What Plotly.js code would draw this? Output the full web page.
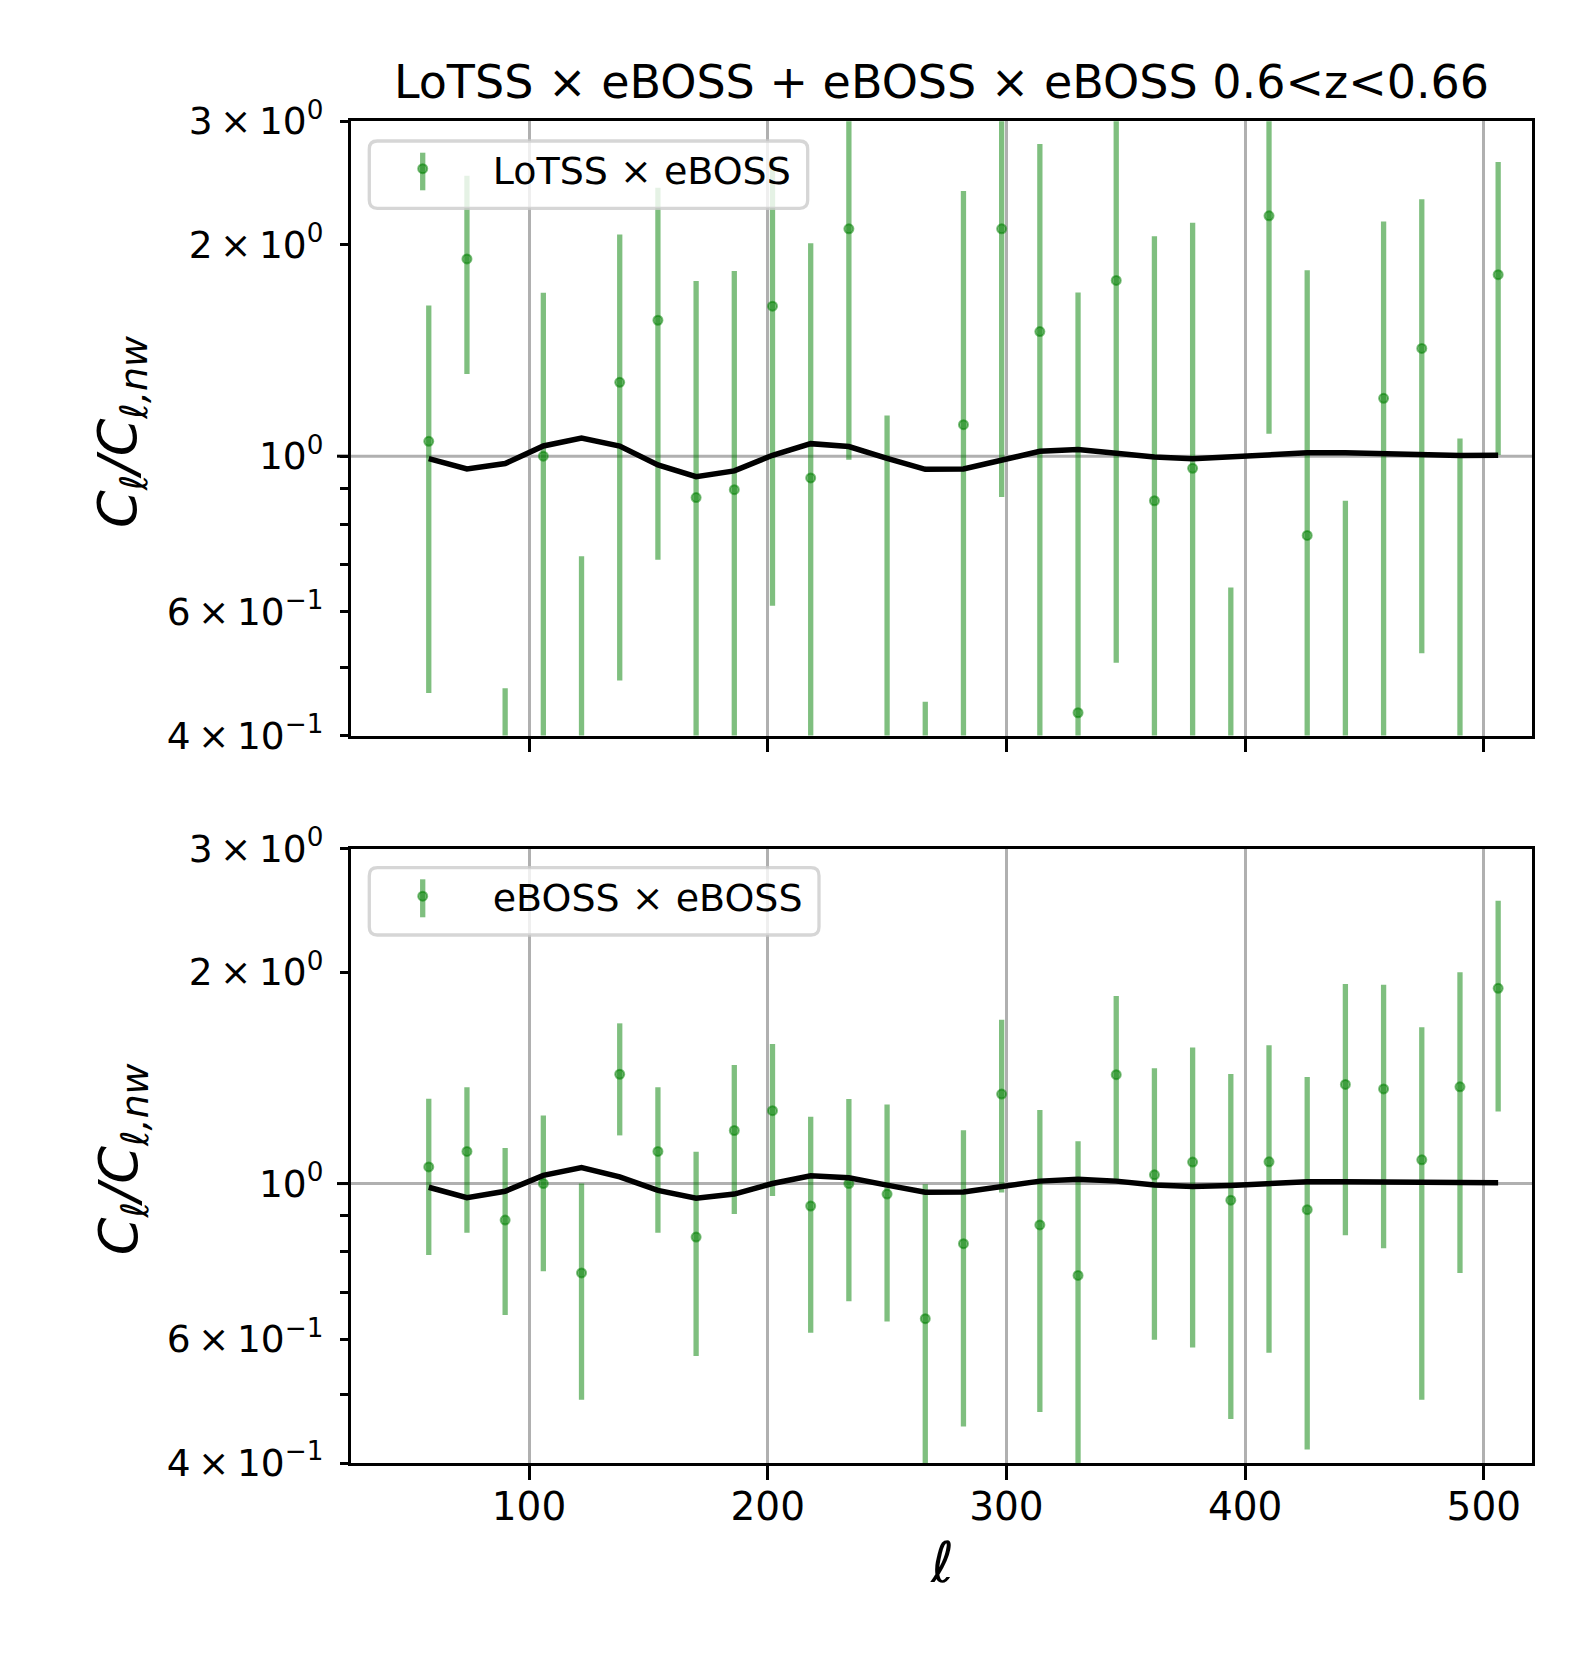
<!DOCTYPE html>
<html>
<head>
<meta charset="utf-8">
<title>BAO ratio LoTSS x eBOSS</title>
<script src="https://cdn.plot.ly/plotly-3.0.1.min.js"></script>
<style>body{margin:0;background:#fff;}</style>
</head>
<body>
<div id="plot" style="width:1579px;height:1675px;"></div>
<script>
// multipole bin centres
var ell = [58,74,90,106,122,138,154,170,186,202,218,234,250,266,282,298,314,330,346,362,378,394,410,426,442,458,474,490,506];

// LoTSS x eBOSS : C_l / C_l,nw  (a few points sit below the plotted range, only their bars show)
var crossVal = [1.05,1.91,0.02,1.00,0.02,1.274,1.562,0.873,0.896,1.636,0.931,2.108,0.02,0.02,1.109,2.108,1.505,0.431,1.780,0.864,0.961,0.02,2.20,0.771,0.02,1.209,1.424,0.21,1.814];
var crossErr = [0.59,0.60,0.447,0.71,0.70,0.795,0.85,0.904,0.94,1.024,1.08,1.12,1.123,0.427,1.277,1.233,1.28,1.28,1.272,1.194,1.19,0.63,1.124,1.07,0.844,0.95,0.90,0.85,0.81];
var crossTheory = [0.992,0.959,0.976,1.034,1.061,1.034,0.972,0.935,0.953,1.003,1.042,1.032,0.993,0.958,0.959,0.987,1.016,1.022,1.009,0.997,0.992,0.997,1.005,1.011,1.011,1.008,1.003,1.002,1.003];

// eBOSS x eBOSS
var autoVal = [1.056,1.111,0.887,1.0,0.746,1.431,1.111,0.839,1.190,1.270,0.929,1.0,0.966,0.642,0.821,1.341,0.873,0.740,1.429,1.029,1.073,0.947,1.074,0.918,1.384,1.364,1.081,1.373,1.897];
var autoErr = [0.265,0.26,0.237,0.25,0.254,0.26,0.26,0.271,0.285,0.31,0.316,0.32,0.33,0.356,0.37,0.37,0.40,0.409,0.42,0.43,0.489,0.485,0.50,0.50,0.54,0.555,0.589,0.627,0.63];
var autoTheory = [0.988,0.955,0.975,1.027,1.054,1.022,0.978,0.953,0.966,1.0,1.026,1.019,0.995,0.972,0.973,0.99,1.008,1.014,1.008,0.995,0.99,0.994,1.0,1.006,1.006,1.005,1.002,1.002,1.003];

var xTicks = [100,200,300,400,500];
var yTicks = [0.4,0.6,1,2,3];
var yTickText = ['4\u2009×\u200910<sup>−1</sup>','6\u2009×\u200910<sup>−1</sup>','10<sup>0</sup>','2\u2009×\u200910<sup>0</sup>','3\u2009×\u200910<sup>0</sup>'];
var yMinorTicks = [0.5,0.7,0.8,0.9];

var W = 1579, H = 1675;
var FONT = 'DejaVu Sans';
var green = 'rgba(0,128,0,0.5)';
function px(x){ return x/W; }          // pixel -> paper x
function py(y){ return 1 - y/H; }      // pixel -> paper y

var L = 350.7, R = 1532.3;
var panels = [ {top:121.3, bot:735.5}, {top:848.5, bot:1463} ];

function dataTrace(yv, err, name, xa, ya, leg){
  return {
    x: ell, y: yv, type:'scatter', mode:'markers', name:name,
    xaxis:xa, yaxis:ya, legend:leg,
    marker:{size:9, color:green, line:{color:green, width:2}},
    error_y:{type:'data', array:err, visible:true, color:green, thickness:5.3, width:0}
  };
}
function theoryTrace(yv, xa, ya){
  return {x: ell, y: yv, type:'scatter', mode:'lines', showlegend:false,
    xaxis:xa, yaxis:ya, line:{color:'black', width:5.5}};
}

var data = [
  dataTrace(crossVal, crossErr, 'LoTSS × eBOSS', 'x', 'y', 'legend'),
  theoryTrace(crossTheory, 'x', 'y'),
  dataTrace(autoVal, autoErr, 'eBOSS × eBOSS', 'x2', 'y2', 'legend2'),
  theoryTrace(autoTheory, 'x2', 'y2')
];

function xAxis(anchor, labels){
  return {domain:[px(L), px(R)], anchor:anchor, range:[25.3, 520.3],
    tickvals:xTicks, showticklabels:labels, ticks:'outside', ticklen:13.7, tickwidth:3, tickcolor:'black',
    ticklabelstandoff:-7,
    showline:true, linewidth:3, linecolor:'black', mirror:true,
    showgrid:true, gridcolor:'#b0b0b0', gridwidth:3, zeroline:false,
    tickfont:{family:FONT, size:39, color:'black'}};
}
function yAxis(anchor, p){
  return {domain:[py(p.bot), py(p.top)], anchor:anchor, type:'log',
    range:[Math.log10(0.4), Math.log10(3)],
    tickvals:yTicks, ticktext:yTickText, ticks:'outside', ticklen:7.8, tickwidth:3, tickcolor:'black',
    ticklabelstandoff:9,
    minor:{tickvals:yMinorTicks, ticks:'outside', ticklen:7.8, tickwidth:3, tickcolor:'black', showgrid:false},
    showline:true, linewidth:3, linecolor:'black', mirror:true,
    showgrid:false, zeroline:false,
    tickfont:{family:FONT, size:37.5, color:'black'}};
}

var shapes = [];
var annotations = [];
[['x','y'],['x2','y2']].forEach(function(ax, i){
  // major grid line at 10^0
  shapes.push({type:'line', xref:ax[0]+' domain', yref:ax[1], x0:0, x1:1, y0:1, y1:1,
    layer:'below', line:{color:'#b0b0b0', width:3}});
  // longer major tick at 10^0
  shapes.push({type:'line', xref:'paper', yref:ax[1], x0:px(L-13.7), x1:px(L), y0:1, y1:1,
    line:{color:'black', width:3}});
  var mid = (panels[i].top + panels[i].bot)/2 + 4;
  annotations.push({xref:'paper', yref:'paper', x:px(121.5), y:py(mid), textangle:-90,
    showarrow:false, xanchor:'center', yanchor:'middle',
    text:'<i>C</i><sub><i>ℓ</i></sub><i>/C</i><sub><i>ℓ,nw</i></sub>',
    font:{family:FONT, size:54, color:'black'}});
});

// legend frames (rounded, semi-transparent like matplotlib) and error-bar glyphs
function roundBox(x0, y0, x1, y1, r){
  var p = 'M'+px(x0+r)+','+py(y0)+' L'+px(x1-r)+','+py(y0)+
    ' Q'+px(x1)+','+py(y0)+' '+px(x1)+','+py(y0+r)+
    ' L'+px(x1)+','+py(y1-r)+' Q'+px(x1)+','+py(y1)+' '+px(x1-r)+','+py(y1)+
    ' L'+px(x0+r)+','+py(y1)+' Q'+px(x0)+','+py(y1)+' '+px(x0)+','+py(y1-r)+
    ' L'+px(x0)+','+py(y0+r)+' Q'+px(x0)+','+py(y0)+' '+px(x0+r)+','+py(y0)+' Z';
  return {type:'path', xref:'paper', yref:'paper', path:p, layer:'above',
    fillcolor:'rgba(255,255,255,0.8)', line:{color:'rgba(204,204,204,0.8)', width:3.3}};
}
shapes.push(roundBox(369.3, 141, 807.7, 208.3, 8));
shapes.push(roundBox(369.3, 867.7, 819, 935, 8));
shapes.push({type:'line', xref:'paper', yref:'paper', layer:'above', x0:px(422.7), x1:px(422.7),
  y0:py(152.7), y1:py(190.3), line:{color:green, width:5.3}});
shapes.push({type:'line', xref:'paper', yref:'paper', layer:'above', x0:px(422.7), x1:px(422.7),
  y0:py(879.3), y1:py(917.3), line:{color:green, width:5.3}});

annotations.push({xref:'paper', yref:'paper', x:px((L+R)/2), y:py(1562), showarrow:false,
  xanchor:'center', yanchor:'middle', text:'<i>ℓ</i>', font:{family:FONT, size:56, color:'black'}});

var legendBase = {xanchor:'left', yanchor:'top', bgcolor:'rgba(0,0,0,0)', borderwidth:0,
  itemwidth:130, font:{family:FONT, size:38, color:'black'}};

var layout = {
  width:W, height:H, margin:{l:0, r:0, t:0, b:0},
  paper_bgcolor:'white', plot_bgcolor:'white',
  font:{family:FONT, color:'black'},
  title:{text:'LoTSS × eBOSS + eBOSS × eBOSS 0.6<z<0.66', font:{family:FONT, size:46, color:'black'},
    x:px((L+R)/2), xanchor:'center', y:py(82), yanchor:'middle'},
  xaxis:xAxis('y', false),
  yaxis:yAxis('x', panels[0]),
  xaxis2:xAxis('y2', true),
  yaxis2:yAxis('x2', panels[1]),
  legend:Object.assign({x:px(352.7), y:py(137.5)}, legendBase),
  legend2:Object.assign({x:px(352.7), y:py(865)}, legendBase),
  shapes:shapes,
  annotations:annotations,
  hovermode:false
};

Plotly.newPlot('plot', data, layout, {displayModeBar:false, staticPlot:true});
</script>
</body>
</html>
